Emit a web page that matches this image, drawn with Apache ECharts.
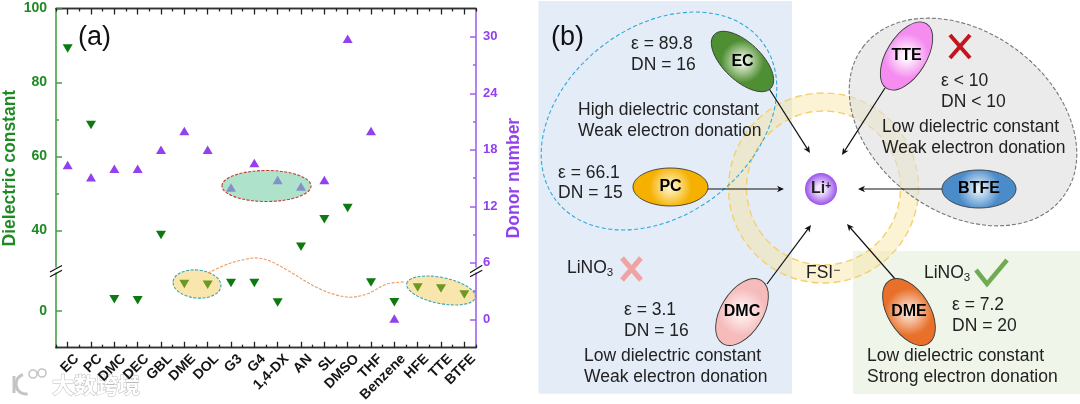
<!DOCTYPE html>
<html lang="en">
<head>
  <meta charset="UTF-8">
  <title>Dielectric constant and donor number</title>
  <script src="https://cdn.jsdelivr.net/npm/echarts@6/dist/echarts.min.js"></script>
  <style>
    html, body { margin: 0; padding: 0; background: #fff; }
    #main { width: 1080px; height: 404px; }
  </style>
</head>
<body>
<div id="main"></div>
<script type="text/javascript">
  var FONT = '"Liberation Sans", Arial, sans-serif';
  var GREEN = '#1f8a24';
  var PURPLE = '#9340ee';
  var TEXT_SIZE = 17.5;

  // panel (a) data
  var solvents = ['EC', 'PC', 'DMC', 'DEC', 'GBL', 'DME', 'DOL', 'G3', 'G4', '1,4-DX', 'AN', 'SL', 'DMSO', 'THF', 'Benzene', 'HFE', 'TTE', 'BTFE'];
  var dielectric = [89.2, 68.5, 3.1, 2.8, 38.8, 7.2, 7, 7.5, 7.5, 2.2, 35.6, 43, 46.1, 7.6, 2.3, 6.3, 6, 4.4];
  var donor = [16.4, 15.1, 16, 16, 18, 20, 18, 14, 16.6, 14.8, 14.1, 14.8, 29.8, 20, 0.1, null, null, null];
  var dielectricTicks = [0, 40, 60, 80, 100];
  var dielectricMinor = [50, 70];
  var donorTicks = [0, 6, 12, 18, 24, 30];
  var donorMinor = [3, 9, 15, 21, 27];

  // panel (b) text and solvent ovals
  var ovals = [
    { name: 'EC', x: 742.5, y: 61.5, rx: 39, ry: 19, rot: -0.76, edge: '#4f8f33', mid: '#eef5e4' },
    { name: 'PC', x: 670.5, y: 187, rx: 37.5, ry: 19, rot: 0, edge: '#f5b000', mid: '#fff3c4' },
    { name: 'TTE', x: 906.5, y: 56, rx: 38, ry: 20, rot: 1.02, edge: '#f58cf0', mid: '#ffffff' },
    { name: 'BTFE', x: 979, y: 189, rx: 37, ry: 19, rot: 0, edge: '#4a8bca', mid: '#e2eff9' },
    { name: 'DMC', x: 742, y: 312, rx: 37, ry: 21, rot: 1.02, edge: '#f6bcbc', mid: '#fff4f4' },
    { name: 'DME', x: 909, y: 312, rx: 37, ry: 21, rot: -1.02, edge: '#e8702a', mid: '#fbe6da' }
  ];
  var labels = [
    ['ε = 89.8', 631, 44], ['DN = 16', 631, 65],
    ['High dielectric constant', 578, 110], ['Weak electron donation', 578, 131],
    ['ε = 66.1', 558, 173], ['DN = 15', 558, 193],
    ['ε < 10', 941, 81], ['DN < 10', 941, 102],
    ['Low dielectric constant', 882, 127], ['Weak electron donation', 882, 148],
    ['ε = 3.1', 624, 310], ['DN = 16', 624, 331],
    ['Low dielectric constant', 584, 356], ['Weak electron donation', 584, 377],
    ['ε = 7.2', 952, 305], ['DN = 20', 952, 326],
    ['Low dielectric constant', 867, 356], ['Strong electron donation', 867, 377]
  ];
  var arrows = [
    [768, 87, 810, 153], [708, 189, 784, 189], [885, 88, 842, 155],
    [942, 189, 858, 189], [767, 284, 811, 225], [896, 280, 847, 224]
  ];

  function ellipse(x, y, rx, ry, rot, style, z) {
    return { type: 'ellipse', x: x, y: y, rotation: rot, z: z, shape: { cx: 0, cy: 0, rx: rx, ry: ry }, style: style };
  }

  function line(x1, y1, x2, y2, color, width, z) {
    return { type: 'line', z: z, shape: { x1: x1, y1: y1, x2: x2, y2: y2 }, style: { stroke: color, lineWidth: width } };
  }

  function text(str, x, y, size, extra) {
    var style = { text: str, x: x, y: y, fill: '#222', font: size + 'px ' + FONT, verticalAlign: 'middle' };
    for (var k in extra) style[k] = extra[k];
    return { type: 'text', z: 40, style: style };
  }

  function arrow(a) {
    var dx = a[2] - a[0], dy = a[3] - a[1];
    var len = Math.sqrt(dx * dx + dy * dy);
    var ux = dx / len, uy = dy / len;
    return [
      line(a[0], a[1], a[2] - ux * 4, a[3] - uy * 4, '#111', 1.2, 30),
      { type: 'polygon', z: 30, shape: { points: [
        [a[2], a[3]],
        [a[2] - ux * 7 - uy * 3.2, a[3] - uy * 7 + ux * 3.2],
        [a[2] - ux * 5, a[3] - uy * 5],
        [a[2] - ux * 7 + uy * 3.2, a[3] - uy * 7 - ux * 3.2]
      ] }, style: { fill: '#111' } }
    ];
  }

  var liNO = { rich: {
    a: { fontSize: TEXT_SIZE, fontFamily: FONT, color: '#222' },
    b: { fontSize: 11.5, fontFamily: FONT, color: '#222', padding: [9, 0, 0, 0] }
  } };

  var elements = [];
  // panel (a) annotations
  elements.push(ellipse(266.5, 186, 44.5, 15.5, 0, { fill: 'rgba(118,205,165,0.58)', stroke: '#cc3a34', lineWidth: 1.1, lineDash: [3, 1.5] }, 10));
  elements.push(ellipse(197, 284, 24, 14, -0.1, { fill: 'rgba(240,195,60,0.42)', stroke: '#35a5bb', lineWidth: 1.1, lineDash: [3, 1.5] }, 10));
  elements.push(ellipse(441, 290.5, 35, 13, -0.2, { fill: 'rgba(240,195,60,0.42)', stroke: '#35a5bb', lineWidth: 1.1, lineDash: [3, 1.5] }, 10));
  elements.push({ type: 'polyline', z: 10, shape: {
    points: [[208, 273], [228, 264], [247, 259], [257, 258], [270, 261], [287, 270], [320, 289], [347, 297], [367, 294], [387, 284], [405, 282]],
    smooth: 0.35
  }, style: { fill: null, stroke: '#ec9a60', lineWidth: 1.1, lineDash: [3, 1.5] } });
  elements.push(text('(a)', 78, 38, 27, { fill: '#111' }));

  // axis break marks, with the axis line cut between them
  elements.push({ type: 'rect', z: 11, shape: { x: 54, y: 267.5, width: 4, height: 5 }, style: { fill: '#fff' } });
  elements.push({ type: 'rect', z: 11, shape: { x: 474, y: 267.5, width: 4, height: 5 }, style: { fill: '#fff' } });
  [[50, 272, 62, 265.5], [50, 276.7, 62, 270.3], [470, 272.7, 482.3, 265.3], [470, 276.7, 482.3, 270.3]].forEach(function (b) {
    elements.push(line(b[0], b[1], b[2], b[3], '#111', 1.2, 12));
  });

  // panel (b) backgrounds
  elements.push({ type: 'rect', z: 1, shape: { x: 538.5, y: 1, width: 253.5, height: 392.7 }, style: { fill: '#e4edf7' } });
  elements.push({ type: 'rect', z: 1, shape: { x: 853, y: 251, width: 227, height: 143 }, style: { fill: '#f0f5ea' } });
  elements.push({ type: 'ring', z: 3, shape: { cx: 823.5, cy: 188, r: 95, r0: 77 }, style: { fill: 'rgba(248,226,150,0.4)', stroke: '#f3d06f', lineWidth: 1.4, lineDash: [7, 4] } });
  elements.push(ellipse(963, 122, 125, 90, -0.64, { fill: 'rgba(222,222,222,0.62)', stroke: '#777', lineWidth: 1.1, lineDash: [4, 2] }, 4));
  elements.push(ellipse(659, 121, 130, 94, 0.66, { fill: 'none', stroke: '#2ea9da', lineWidth: 1.1, lineDash: [4, 2.5] }, 4));

  arrows.forEach(function (a) { elements = elements.concat(arrow(a)); });

  ovals.forEach(function (o) {
    elements.push(ellipse(o.x, o.y, o.rx, o.ry, o.rot, {
      fill: { type: 'radial', x: 0.5, y: 0.5, r: 0.55, colorStops: [{ offset: 0.1, color: o.mid }, { offset: 1, color: o.edge }] },
      stroke: '#3a3a3a', lineWidth: 0.9
    }, 35));
    elements.push(text(o.name, o.x, o.y, 16, { font: 'bold 16px ' + FONT, align: 'center', fill: '#000' }));
  });

  // Li+
  elements.push({ type: 'circle', z: 35, shape: { cx: 821, cy: 189, r: 16 }, style: {
    fill: { type: 'radial', x: 0.5, y: 0.5, r: 0.5, colorStops: [{ offset: 0.25, color: '#f3e8ff' }, { offset: 1, color: '#9a52ea' }] }
  } });
  elements.push(text('{a|Li}{b|+}', 821, 189, 15, { align: 'center', rich: {
    a: { fontSize: 16, fontWeight: 'bold', fontFamily: FONT, color: '#000' },
    b: { fontSize: 10, fontWeight: 'bold', fontFamily: FONT, color: '#000', padding: [0, 0, 5, 0] }
  } }));

  labels.forEach(function (l) { elements.push(text(l[0], l[1], l[2], TEXT_SIZE)); });
  elements.push(text('(b)', 551, 38, 27, { fill: '#111' }));

  // LiNO3 marks, FSI
  elements.push(text('{a|LiNO}{b|3}', 567, 268, TEXT_SIZE, liNO));
  elements.push(text('{a|LiNO}{b|3}', 924, 273, TEXT_SIZE, liNO));
  elements.push(text('{a|FSI}{b|−}', 806, 273, TEXT_SIZE, { rich: {
    a: { fontSize: TEXT_SIZE, fontFamily: FONT, color: '#222' },
    b: { fontSize: 12, fontFamily: FONT, color: '#222', padding: [0, 0, 5, 0] }
  } }));
  elements.push(line(950, 35, 970, 58, '#c2161c', 4, 36));
  elements.push(line(970, 35, 950, 58, '#c2161c', 4, 36));
  elements.push(line(622, 258, 641, 280, '#efa3a3', 5, 36));
  elements.push(line(641, 258, 622, 280, '#efa3a3', 5, 36));
  elements.push({ type: 'polyline', z: 36, shape: { points: [[976, 270], [987, 284], [1007, 260]] }, style: { fill: null, stroke: '#6fab52', lineWidth: 4.5 } });

  // watermark, under the axis labels
  var mark = text('大数跨境', 52, 385, 22, { font: 'bold 22px "Noto Sans CJK SC"', fill: '#ffffff', stroke: '#bcbcbc', lineWidth: 1 });
  mark.z = -1;
  elements.push(mark);
  elements.push(line(14, 376, 14, 393, '#c4c4c4', 3, -1));
  elements.push({ type: 'arc', z: -1, shape: { cx: 26, cy: 384, r: 10, startAngle: 1.4, endAngle: 4.4 }, style: { fill: null, stroke: '#c4c4c4', lineWidth: 3 } });
  elements.push({ type: 'circle', z: -1, shape: { cx: 33, cy: 374, r: 4 }, style: { fill: null, stroke: '#c4c4c4', lineWidth: 1.6 } });
  elements.push({ type: 'circle', z: -1, shape: { cx: 42, cy: 373, r: 4 }, style: { fill: null, stroke: '#c4c4c4', lineWidth: 1.6 } });

  function xAxis(position, tickLen, aligned, gridIndex, labelled) {
    return {
      type: 'category', gridIndex: gridIndex, position: position, data: solvents,
      axisLine: { show: !labelled, onZero: false, lineStyle: { color: '#333', width: 1.4 } },
      axisTick: { show: tickLen > 0, inside: true, interval: 0, length: tickLen, alignWithLabel: aligned, lineStyle: { color: '#222', width: 1.3 } },
      axisLabel: labelled ? { show: true, interval: 0, rotate: 45, margin: 9, color: '#151515', fontFamily: FONT, fontWeight: 'bold', fontSize: 14 } : { show: false, interval: 0 },
      splitLine: { show: false }
    };
  }

  var dielectricBreak = [{ start: 11.2, end: 29.5, gap: 0 }];

  var option = {
    animation: false,
    grid: [
      { left: 56, top: 8.5, height: 339.2, width: 420, outerBoundsMode: 'none' },
      // the rotated labels sit to the right of their ticks, so they get their own shifted grid
      { left: 65, top: 8.5, height: 339.2, width: 420, outerBoundsMode: 'none' }
    ],
    xAxis: [
      xAxis('bottom', 6, true, 0, false),
      xAxis('bottom', 3, false, 0, false),
      xAxis('top', 6, true, 0, false),
      xAxis('top', 3, false, 0, false),
      xAxis('bottom', 0, true, 1, true)
    ],
    yAxis: [
      {
        type: 'value', gridIndex: 0, position: 'left', min: -10, max: 100,
        breaks: dielectricBreak, breakArea: { show: false },
        name: 'Dielectric constant', nameLocation: 'middle', nameGap: 37, nameRotate: 90, nameMoveOverlap: false,
        nameTextStyle: { color: GREEN, fontFamily: FONT, fontWeight: 'bold', fontSize: 17.5, padding: [0, 0, 0, 20] },
        axisLine: { show: true, onZero: false, lineStyle: { color: '#46a04a', width: 1.6 } },
        axisTick: { show: true, inside: true, length: 6, customValues: dielectricTicks, lineStyle: { color: '#46a04a', width: 1.5 } },
        axisLabel: { show: true, customValues: dielectricTicks, margin: 9, color: GREEN, fontFamily: FONT, fontWeight: 'bold', fontSize: 14 },
        splitLine: { show: false }
      },
      {
        type: 'value', gridIndex: 0, position: 'left', min: -10, max: 100,
        breaks: dielectricBreak, breakArea: { show: false },
        axisLine: { show: false, onZero: false },
        axisTick: { show: true, inside: true, length: 3, customValues: dielectricMinor, lineStyle: { color: '#46a04a', width: 1.5 } },
        axisLabel: { show: false },
        splitLine: { show: false }
      },
      {
        type: 'value', gridIndex: 0, position: 'right', min: -3, max: 33,
        name: 'Donor number', nameLocation: 'middle', nameGap: 29, nameRotate: 90, nameMoveOverlap: false,
        nameTextStyle: { color: PURPLE, fontFamily: FONT, fontWeight: 'bold', fontSize: 17.5 },
        axisLine: { show: true, onZero: false, lineStyle: { color: '#a062f0', width: 1.6 } },
        axisTick: { show: true, inside: true, length: 6, customValues: donorTicks, lineStyle: { color: '#a062f0', width: 1.5 } },
        axisLabel: { show: true, customValues: donorTicks, margin: 7, color: PURPLE, fontFamily: FONT, fontWeight: 'bold', fontSize: 13 },
        splitLine: { show: false }
      },
      {
        type: 'value', gridIndex: 0, position: 'right', min: -3, max: 33,
        axisLine: { show: false, onZero: false },
        axisTick: { show: true, inside: true, length: 3, customValues: donorMinor, lineStyle: { color: '#a062f0', width: 1.5 } },
        axisLabel: { show: false },
        splitLine: { show: false }
      },
      { type: 'value', gridIndex: 1, show: false, min: 0, max: 1 }
    ],
    series: [
      {
        name: 'Dielectric constant', type: 'scatter', xAxisIndex: 0, yAxisIndex: 0, data: dielectric,
        symbol: 'triangle', symbolRotate: 180, symbolSize: [10, 8.5], itemStyle: { color: '#0c7a10', opacity: 1 }
      },
      {
        name: 'Donor number', type: 'scatter', xAxisIndex: 0, yAxisIndex: 2, data: donor,
        symbol: 'triangle', symbolSize: [10, 8.5], itemStyle: { color: PURPLE, opacity: 1 }
      }
    ],
    graphic: { elements: elements }
  };

  var myChart = echarts.init(document.getElementById('main'), null, { renderer: 'canvas' });
  myChart.setOption(option);
</script>
</body>
</html>
